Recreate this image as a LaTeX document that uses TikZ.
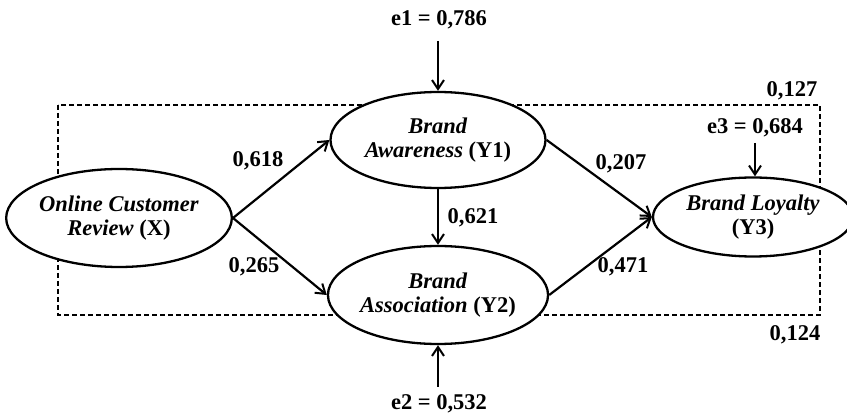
\documentclass[tikz,border=0pt]{standalone}
\usepackage{fontspec}
\setmainfont{Liberation Serif}
\usetikzlibrary{shapes.geometric,arrows.meta,calc}
\begin{document}
\begin{tikzpicture}[x=1pt,y=-1pt,
  font=\fontsize{22.5}{23.5}\selectfont\bfseries,
  latent/.style={ellipse,draw,fill=white,line width=2.3pt,inner sep=0pt,align=center},
  lbl/.style={inner sep=0pt},
  arr/.style={line width=2.2pt,-{Straight Barb[length=9pt,width=12pt,line width=2pt]}},
  box/.style={draw,line width=1.3pt,dash pattern=on 5pt off 3pt}]
\useasboundingbox (0,0) rectangle (847,414);
\draw[box] (58,105) rectangle (820,315);
\node[latent,minimum width=214pt,minimum height=98pt] (X) at (119,218) {\textit{Online Customer}\\\textit{Review} (X)};
\node[latent,minimum width=215pt,minimum height=96pt] (Y1) at (438,140) {\textit{Brand}\\\textit{Awareness} (Y1)};
\node[latent,minimum width=215pt,minimum height=98pt] (Y2) at (438,295) {\textit{Brand}\\\textit{Association} (Y2)};
\node[latent,minimum width=200pt,minimum height=79pt] (Y3) at (753,217) {\textit{Brand Loyalty}\\(Y3)};
\node[lbl] (e1) at (439,20) {e1 = 0,786};
\node[lbl] (e2) at (439,404) {e2 = 0,532};
\node[lbl] (e3) at (755,128) {e3 = 0,684};
\node[lbl] (r1) at (792,91) {0,127};
\node[lbl] (r2) at (795,335) {0,124};
\node[lbl] (p1) at (258,161) {0,618};
\node[lbl] (p2) at (254,267) {0,265};
\node[lbl] (p3) at (473,218) {0,621};
\node[lbl] (p4) at (621,164) {0,207};
\node[lbl] (p5) at (623,267) {0,471};
\coordinate (e1s) at (438,41);
\coordinate (e2s) at (438,387);
\coordinate (e3s) at (755,143);
\draw[arr] (e1s) -- (Y1.north);
\draw[arr] (e2s) -- (Y2.south);
\draw[arr] (e3s) -- (e3s |- Y3.north);
\draw[arr] (X.east) -- (Y1.west);
\draw[arr] (X.east) -- (Y2.west);
\draw[arr] (Y1.south) -- (Y2.north);
\draw[arr] (Y1.east) -- (Y3.west);
\draw[arr] (Y2.east) -- (Y3.west);
\end{tikzpicture}
\end{document}
